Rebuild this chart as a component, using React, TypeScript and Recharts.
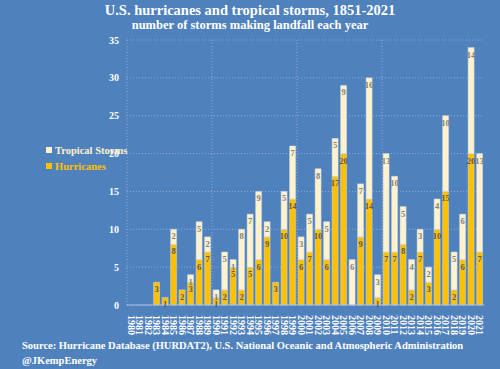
import { Bar, BarChart, CartesianGrid, LabelList, Legend, XAxis, YAxis } from "recharts";

const years = [
  "1980", "1981", "1982", "1983", "1984", "1985", "1986", "1987", "1988", "1989",
  "1990", "1991", "1992", "1993", "1994", "1995", "1996", "1997", "1998", "1999",
  "2000", "2001", "2002", "2003", "2004", "2005", "2006", "2007", "2008", "2009",
  "2010", "2011", "2012", "2013", "2014", "2015", "2016", "2017", "2018", "2019",
  "2020", "2021",
];

const hurricanes = [
  0, 0, 0, 3, 1, 8, 2, 3, 6, 7,
  1, 2, 5, 2, 5, 6, 9, 3, 10, 14,
  6, 7, 10, 6, 17, 20, 0, 9, 14, 1,
  7, 7, 8, 2, 7, 3, 10, 15, 2, 6,
  20, 7,
];

const tropicalStorms = [
  0, 0, 0, 0, 0, 2, 0, 1, 5, 2,
  1, 5, 1, 8, 7, 9, 2, 0, 5, 7,
  3, 5, 8, 5, 5, 9, 6, 7, 16, 3,
  13, 10, 5, 4, 3, 2, 4, 10, 5, 6,
  14, 13,
];

const yTicks = [0, 5, 10, 15, 20, 25, 30, 35];

const data = years.map((year, i) => ({
  year,
  hurricanes: hurricanes[i],
  tropical: tropicalStorms[i],
}));

const BG = "#4F81BD";
const GOLD = "#FFC000";
const CREAM = "#FFF2CC";
const SERIF = "Liberation Serif, DejaVu Serif, serif";

const hideZero = (v: any) => (Number(v) === 0 ? "" : v);

function YearTick({ x, y, payload }: any) {
  return (
    <text
      transform={`translate(${x - 3.5},${y + 2}) rotate(90)`}
      textAnchor="start"
      fill="#fff"
      fontSize={10}
      fontWeight="bold"
      fontFamily={SERIF}
    >
      {payload.value}
    </text>
  );
}

function LegendBox() {
  const items = [
    { label: "Tropical Storms", color: CREAM, text: "#FFF2CC" },
    { label: "Hurricanes", color: GOLD, text: GOLD },
  ];
  return (
    <div style={{ fontFamily: SERIF, fontWeight: "bold", fontSize: 10.5 }}>
      {items.map((it) => (
        <div key={it.label} style={{ display: "flex", alignItems: "center", height: 16 }}>
          <span style={{ width: 6, height: 6, background: it.color, marginRight: 3 }} />
          <span style={{ color: it.text }}>{it.label}</span>
        </div>
      ))}
    </div>
  );
}

export default function App() {
  return (
    <div
      style={{
        position: "absolute",
        left: 0,
        top: 0,
        width: 500,
        height: 369,
        background: BG,
        fontFamily: SERIF,
        color: "#fff",
      }}
    >
      <div style={{ position: "absolute", top: 2, width: 500, textAlign: "center", fontWeight: "bold", fontSize: 14.5 }}>
        U.S. hurricanes and tropical storms, 1851-2021
      </div>
      <div style={{ position: "absolute", top: 18, width: 500, textAlign: "center", fontWeight: "bold", fontSize: 12.5 }}>
        number of storms making landfall each year
      </div>
      <BarChart
        width={500}
        height={369}
        data={data}
        margin={{ top: 40, right: 16, bottom: 0, left: 0 }}
        barCategoryGap="13%"
      >
        <CartesianGrid
          stroke="#8FAAD3"
          strokeDasharray="1 2"
          verticalCoordinatesGenerator={({ offset }: any) =>
            [0, 10, 20, 30].map((k) => offset.left + (offset.width * k) / years.length)
          }
        />
        <XAxis
          dataKey="year"
          interval={0}
          height={64}
          tickLine={false}
          axisLine={{ stroke: "#A9BFDE" }}
          tick={<YearTick />}
        />
        <YAxis
          width={27}
          domain={[0, 35]}
          ticks={yTicks}
          tickLine={false}
          axisLine={false}
          tick={{ fill: "#fff", fontSize: 10, fontWeight: "bold", fontFamily: SERIF }}
        />
        <Legend
          layout="vertical"
          verticalAlign="top"
          align="left"
          wrapperStyle={{ left: 46, top: 142, width: 100 }}
          content={<LegendBox />}
        />
        <Bar dataKey="hurricanes" stackId="a" fill={GOLD} stroke="#C9D8EC" strokeWidth={0.5} isAnimationActive={false}>
          <LabelList
            dataKey="hurricanes"
            position="insideTop"
            offset={4}
            formatter={hideZero}
            fill="#595959"
            fontSize={8.5}
            fontWeight="bold"
            fontFamily={SERIF}
          />
        </Bar>
        <Bar dataKey="tropical" stackId="a" fill={CREAM} stroke="#C9D8EC" strokeWidth={0.5} isAnimationActive={false}>
          <LabelList
            dataKey="tropical"
            position="insideTop"
            offset={4}
            formatter={hideZero}
            fill="#808080"
            fontSize={8.5}
            fontWeight="bold"
            fontFamily={SERIF}
          />
        </Bar>
      </BarChart>
      <div style={{ position: "absolute", left: 22, top: 338, fontWeight: "bold", fontSize: 10.5, lineHeight: "15px" }}>
        Source: Hurricane Database (HURDAT2), U.S. National Oceanic and Atmospheric Administration
        <br />
        @JKempEnergy
      </div>
    </div>
  );
}
